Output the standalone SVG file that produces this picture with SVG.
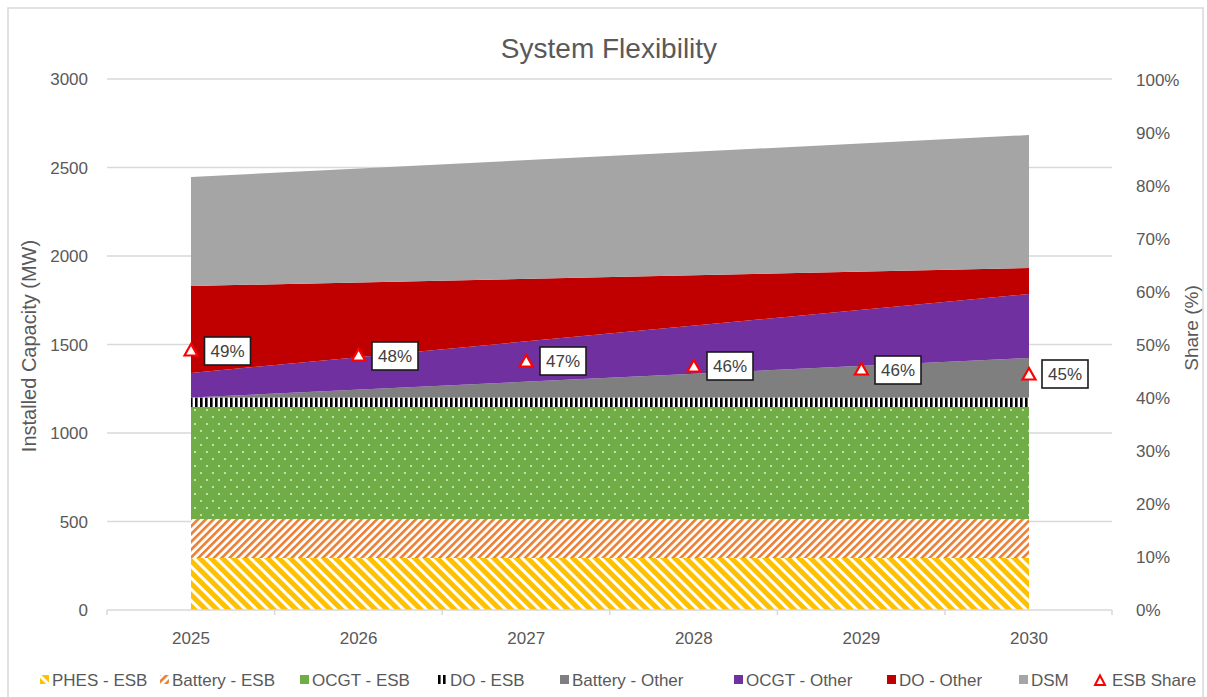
<svg xmlns="http://www.w3.org/2000/svg" width="1207" height="697" viewBox="0 0 1207 697">
<style>
.t{font-family:"Liberation Sans",Arial,sans-serif;fill:#595959}
.ax{font-size:17px}
.lg{font-size:17px}
.grid{stroke:#d9d9d9;stroke-width:1.5;fill:none}
.mk{fill:#fff;stroke:#ff0000;stroke-width:2.2}
.box{fill:#fff;stroke:#1a1a1a;stroke-width:1.6}
.dl{font-family:"Liberation Sans",Arial,sans-serif;font-size:17px;fill:#404040;text-anchor:middle}
</style>
<defs>
<pattern id="pPhes" width="8" height="8" patternUnits="userSpaceOnUse" patternTransform="rotate(-45)">
<rect width="8" height="8" fill="#fff"/><rect width="5" height="8" fill="#FFC000"/>
</pattern>
<pattern id="pBat" width="5.5" height="8" patternUnits="userSpaceOnUse" patternTransform="rotate(45)">
<rect width="5.5" height="8" fill="#fff"/><rect width="2.6" height="8" fill="#ED7D31"/>
</pattern>
<pattern id="pOcgt" width="12" height="14" patternUnits="userSpaceOnUse">
<rect width="12" height="14" fill="#70AD47"/><circle cx="3" cy="4" r="1.1" fill="#D5EBC4"/><circle cx="9" cy="11" r="1.1" fill="#D5EBC4"/>
</pattern>
<pattern id="pDo" width="5" height="10" patternUnits="userSpaceOnUse">
<rect width="5" height="10" fill="#fff"/><rect width="2.6" height="10" fill="#000"/>
</pattern>
</defs>

<g id="frame"><path d="M8,697 V8 H1203 V697" fill="none" stroke="#d9d9d9" stroke-width="1.5"/></g>

<g id="title"><text class="t" x="609" y="58" font-size="28" text-anchor="middle">System Flexibility</text></g>

<g id="gridlines">
<line class="grid" x1="107" y1="79" x2="1112" y2="79"/>
<line class="grid" x1="107" y1="167.5" x2="1112" y2="167.5"/>
<line class="grid" x1="107" y1="256" x2="1112" y2="256"/>
<line class="grid" x1="107" y1="344.5" x2="1112" y2="344.5"/>
<line class="grid" x1="107" y1="433" x2="1112" y2="433"/>
<line class="grid" x1="107" y1="521.5" x2="1112" y2="521.5"/>
</g>

<g id="areas">
<polygon id="a-phes" points="191,610 1029,610 1029,558 191,558" fill="url(#pPhes)"/>
<polygon id="a-bat-esb" points="191,558 1029,558 1029,519 191,519" fill="url(#pBat)"/>
<polygon id="a-ocgt-esb" points="191,519 1029,519 1029,407 191,407" fill="url(#pOcgt)"/>
<polygon id="a-do-esb" points="191,407 1029,407 1029,397.5 191,397.5" fill="url(#pDo)"/>
<polygon id="a-bat-other" points="191,397.5 1029,397.5 1029,358" fill="#7F7F7F"/>
<polygon id="a-ocgt-other" points="191,397.5 1029,358 1029,294 191,373" fill="#7030A0"/>
<polygon id="a-do-other" points="191,373 1029,294 1029,268 191,286" fill="#C00000"/>
<polygon id="a-dsm" points="191,286 1029,268 1029,135 191,177" fill="#A5A5A5"/>
</g>

<g id="x-axis">
<line class="grid" x1="107" y1="610" x2="1112" y2="610"/>
<path class="grid" d="M107,610v5M274.6,610v5M442.2,610v5M609.8,610v5M777.4,610v5M945,610v5M1112,610v5"/>
<text class="t ax" x="191" y="644" text-anchor="middle">2025</text>
<text class="t ax" x="358.6" y="644" text-anchor="middle">2026</text>
<text class="t ax" x="526.2" y="644" text-anchor="middle">2027</text>
<text class="t ax" x="693.8" y="644" text-anchor="middle">2028</text>
<text class="t ax" x="861.4" y="644" text-anchor="middle">2029</text>
<text class="t ax" x="1029" y="644" text-anchor="middle">2030</text>
</g>

<g id="y-axis-left">
<text class="t ax" x="88" y="85" text-anchor="end">3000</text>
<text class="t ax" x="88" y="173.5" text-anchor="end">2500</text>
<text class="t ax" x="88" y="262" text-anchor="end">2000</text>
<text class="t ax" x="88" y="350.5" text-anchor="end">1500</text>
<text class="t ax" x="88" y="439" text-anchor="end">1000</text>
<text class="t ax" x="88" y="527.5" text-anchor="end">500</text>
<text class="t ax" x="88" y="616" text-anchor="end">0</text>
<text class="t" font-size="20" transform="translate(36,346) rotate(-90)" text-anchor="middle">Installed Capacity (MW)</text>
</g>

<g id="y-axis-right">
<text class="t ax" x="1136" y="86">100%</text>
<text class="t ax" x="1136" y="139">90%</text>
<text class="t ax" x="1136" y="192">80%</text>
<text class="t ax" x="1136" y="245">70%</text>
<text class="t ax" x="1136" y="298">60%</text>
<text class="t ax" x="1136" y="351">50%</text>
<text class="t ax" x="1136" y="404">40%</text>
<text class="t ax" x="1136" y="457">30%</text>
<text class="t ax" x="1136" y="510">20%</text>
<text class="t ax" x="1136" y="563">10%</text>
<text class="t ax" x="1136" y="616">0%</text>
<text class="t" font-size="19" transform="translate(1198,328) rotate(-90)" text-anchor="middle">Share (%)</text>
</g>

<g id="esb-share">
<polygon class="mk" points="184.5,355.5 191,344 197.5,355.5"/>
<polygon class="mk" points="352,360.5 358.6,349 365.2,360.5"/>
<polygon class="mk" points="519.7,366.5 526.2,355 532.7,366.5"/>
<polygon class="mk" points="687.3,371.5 693.8,360 700.3,371.5"/>
<polygon class="mk" points="854.9,374.5 861.4,363 867.9,374.5"/>
<polygon class="mk" points="1022.5,379.5 1029,368 1035.5,379.5"/>
<rect class="box" x="204.5" y="337" width="46" height="28"/>
<text class="dl" x="227.5" y="357">49%</text>
<rect class="box" x="372" y="342" width="46" height="28"/>
<text class="dl" x="395" y="362">48%</text>
<rect class="box" x="540" y="347" width="46" height="28"/>
<text class="dl" x="563" y="367">47%</text>
<rect class="box" x="707" y="352" width="46" height="28"/>
<text class="dl" x="730" y="372">46%</text>
<rect class="box" x="875" y="356" width="46" height="28"/>
<text class="dl" x="898" y="376">46%</text>
<rect class="box" x="1042" y="360" width="46" height="28"/>
<text class="dl" x="1065" y="380">45%</text>
</g>

<g id="legend">
<rect x="40" y="675" width="9" height="9" fill="url(#pPhes)"/>
<text class="t lg" x="52" y="686">PHES - ESB</text>
<rect x="160" y="675" width="9" height="9" fill="url(#pBat)"/>
<text class="t lg" x="172" y="686">Battery - ESB</text>
<rect x="300" y="675" width="9" height="9" fill="#70AD47"/>
<text class="t lg" x="312" y="686">OCGT - ESB</text>
<rect x="438" y="675" width="2.6" height="9" fill="#000"/><rect x="443" y="675" width="2.6" height="9" fill="#000"/>
<text class="t lg" x="450" y="686">DO - ESB</text>
<rect x="560" y="675" width="9" height="9" fill="#7F7F7F"/>
<text class="t lg" x="572" y="686">Battery - Other</text>
<rect x="734" y="675" width="9" height="9" fill="#7030A0"/>
<text class="t lg" x="746" y="686">OCGT - Other</text>
<rect x="887" y="675" width="9" height="9" fill="#C00000"/>
<text class="t lg" x="899" y="686">DO - Other</text>
<rect x="1019" y="675" width="9" height="9" fill="#A5A5A5"/>
<text class="t lg" x="1031" y="686">DSM</text>
<polygon points="1095,685 1100,675.5 1105,685" fill="#fff" stroke="#ff0000" stroke-width="2"/>
<text class="t lg" x="1112" y="686">ESB Share</text>
</g>
</svg>
